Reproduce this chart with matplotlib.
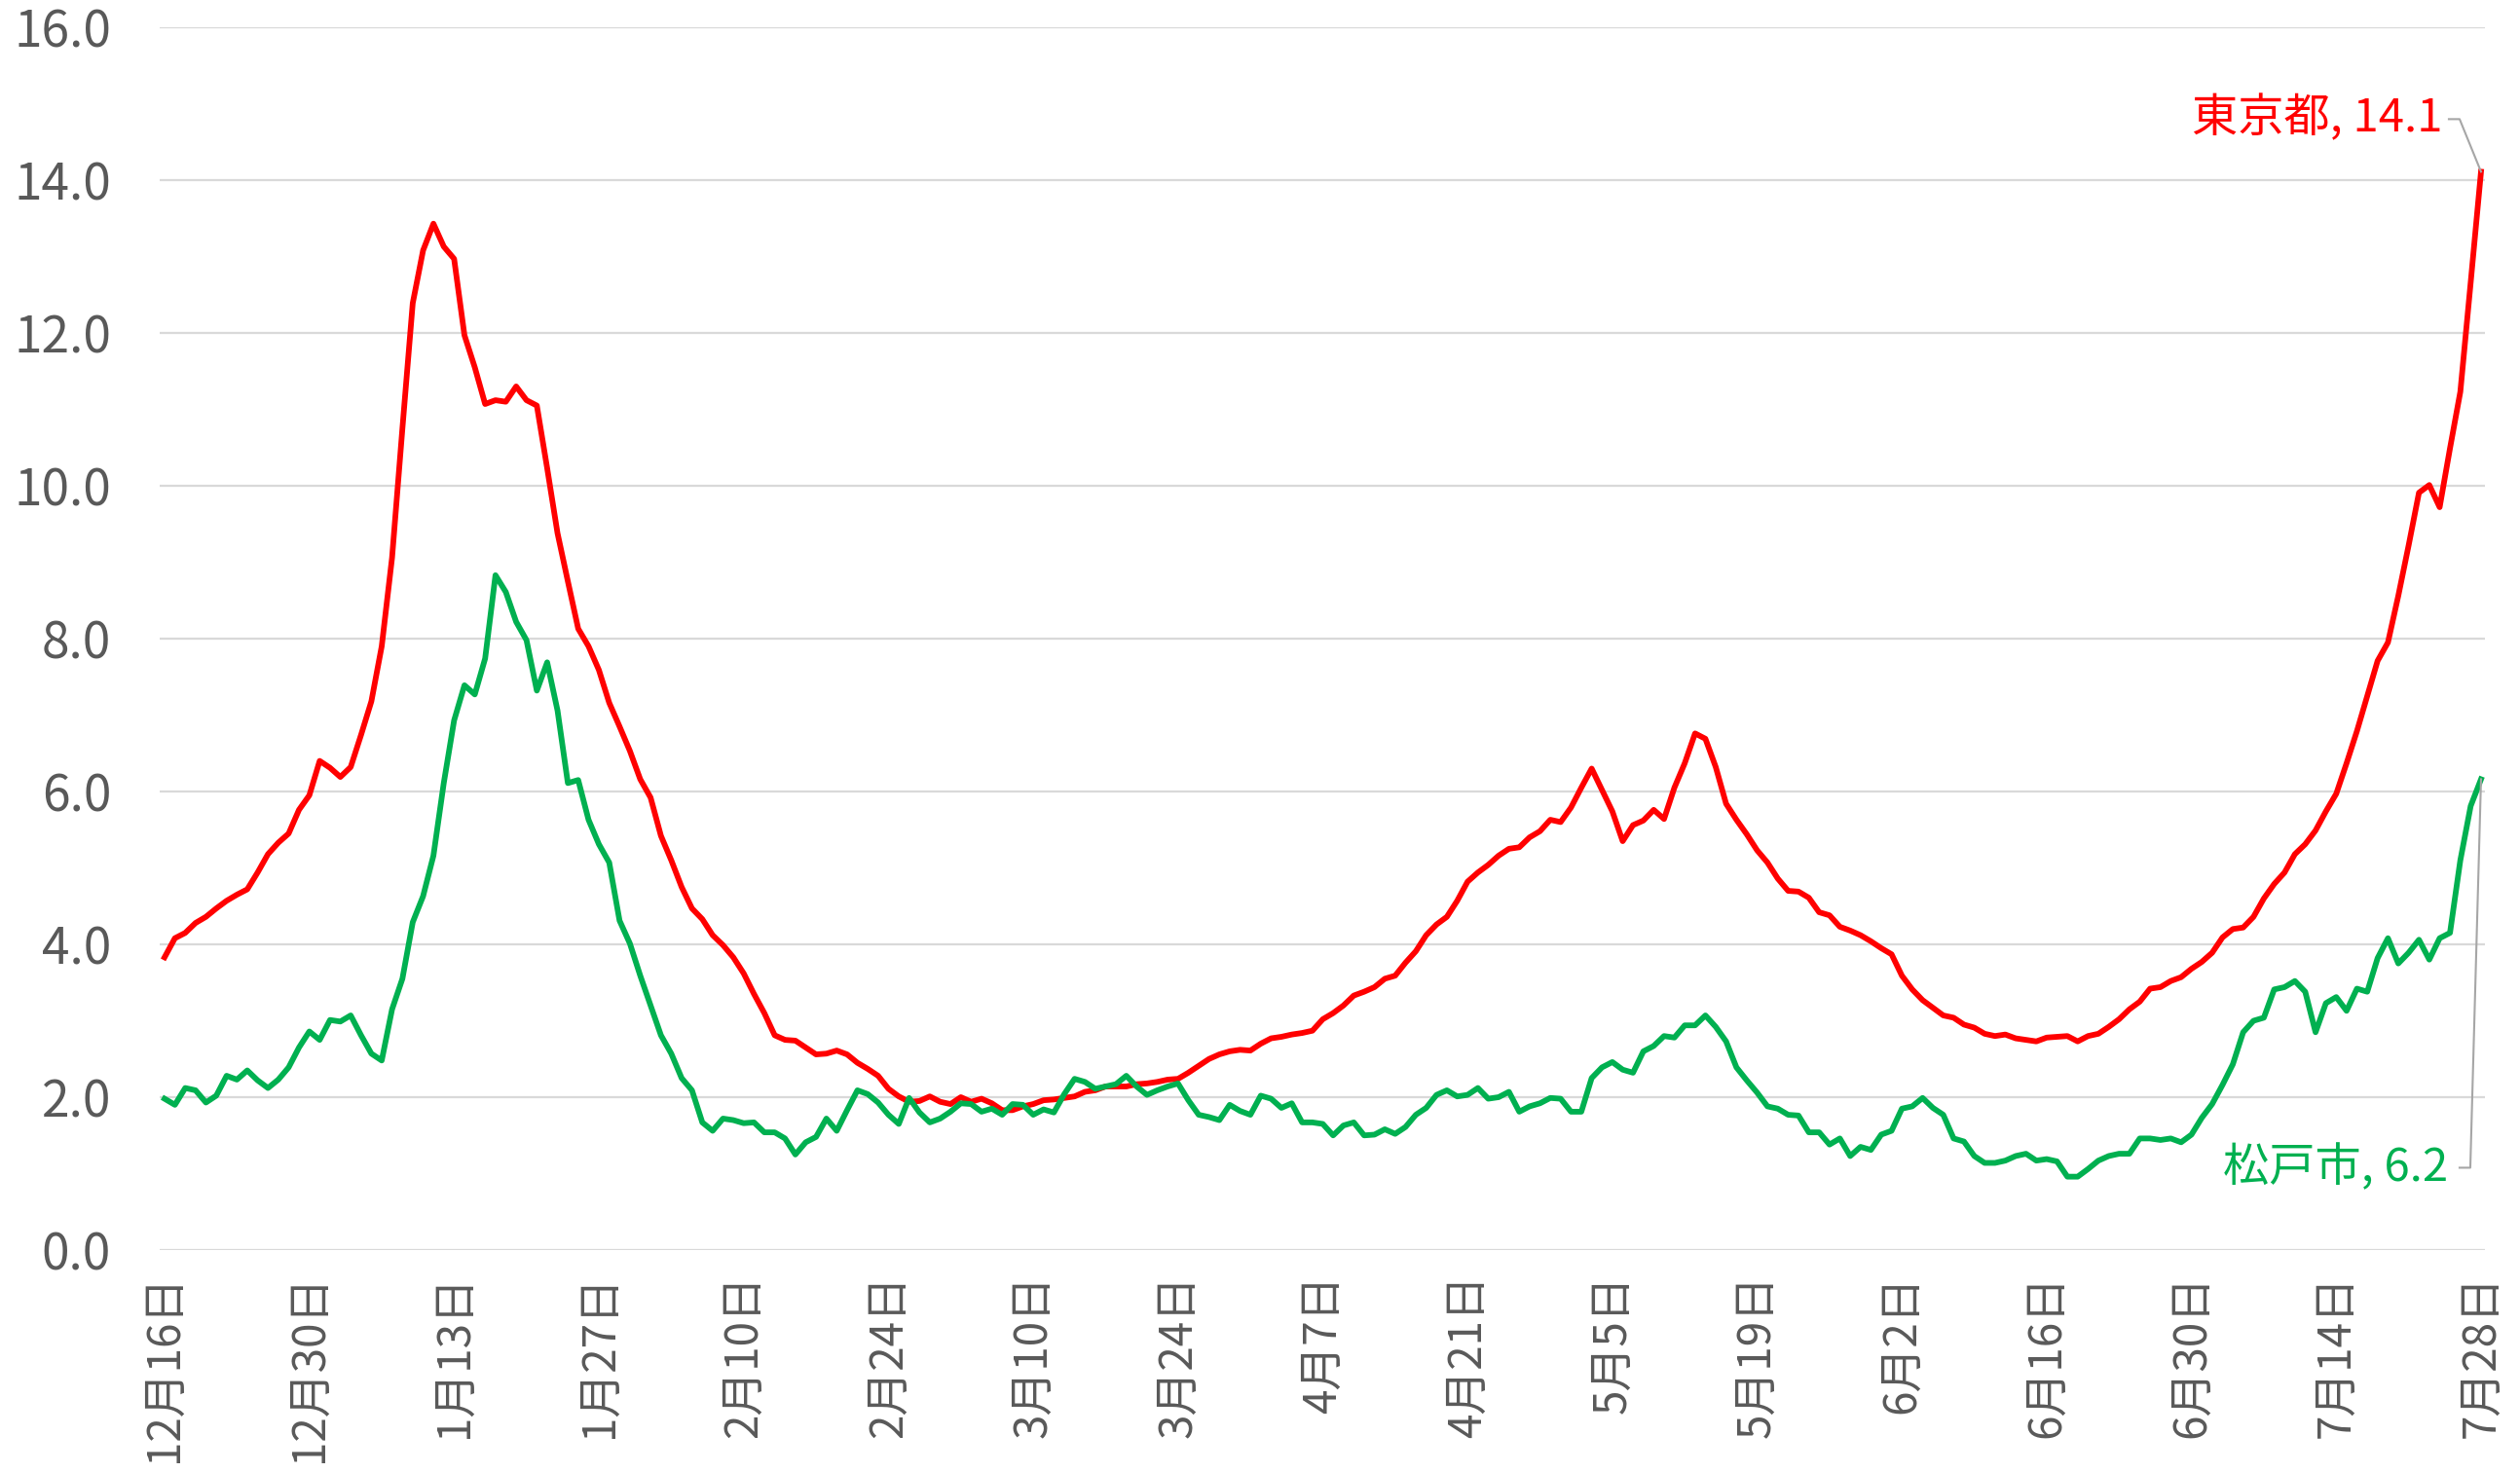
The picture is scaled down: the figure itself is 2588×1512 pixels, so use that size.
import numpy as np
import matplotlib
matplotlib.use('Agg')
import matplotlib.pyplot as plt
from matplotlib.lines import Line2D
from matplotlib.transforms import IdentityTransform

plt.rcParams['font.family'] = ['Noto Sans CJK JP', 'DejaVu Sans']

# 12/16 -> 7/28, one value per day
tokyo = [
    3.83, 4.08, 4.15, 4.28, 4.36, 4.47, 4.57, 4.65, 4.72, 4.94, 5.18, 5.33, 5.45, 5.76, 5.95,
    6.40, 6.31, 6.19, 6.32, 6.74, 7.18, 7.90, 9.06, 10.75, 12.39, 13.08, 13.43, 13.13, 12.97,
    11.97, 11.55, 11.07, 11.12, 11.10, 11.30, 11.12, 11.05, 10.23, 9.38, 8.75, 8.13, 7.90, 7.59,
    7.16, 6.85, 6.53, 6.16, 5.92, 5.42, 5.10, 4.75, 4.47, 4.33, 4.12, 3.99, 3.83, 3.62, 3.35,
    3.10, 2.81, 2.75, 2.74, 2.65, 2.56, 2.57, 2.61, 2.56, 2.45, 2.37, 2.28, 2.11, 2.01, 1.94,
    1.95, 2.01, 1.94, 1.91, 2.00, 1.94, 1.98, 1.92, 1.83, 1.83, 1.88, 1.91, 1.96, 1.97,
    1.99, 2.01, 2.07, 2.09, 2.14, 2.14, 2.14, 2.17, 2.18, 2.20, 2.23, 2.24, 2.32, 2.41, 2.50,
    2.56, 2.60, 2.62, 2.61, 2.70, 2.77, 2.79, 2.82, 2.84, 2.87, 3.02, 3.10, 3.20, 3.33,
    3.38, 3.44, 3.55, 3.59, 3.76, 3.91, 4.12, 4.26, 4.36, 4.57, 4.82, 4.94, 5.04, 5.16, 5.25,
    5.27, 5.40, 5.48, 5.63, 5.60, 5.79, 6.05, 6.30, 6.02, 5.74, 5.35, 5.56, 5.62, 5.76, 5.64,
    6.05, 6.37, 6.76, 6.69, 6.32, 5.84, 5.63, 5.44, 5.23, 5.07, 4.86, 4.70, 4.69, 4.61, 4.42,
    4.38, 4.23, 4.18, 4.12, 4.04, 3.95, 3.87, 3.59, 3.41, 3.27, 3.17, 3.07, 3.04, 2.95,
    2.91, 2.83, 2.80, 2.82, 2.77, 2.75, 2.73, 2.78, 2.79, 2.80, 2.73, 2.80, 2.83, 2.92, 3.02,
    3.15, 3.25, 3.42, 3.44, 3.52, 3.57, 3.68, 3.77, 3.89, 4.09, 4.20, 4.22, 4.36, 4.60,
    4.79, 4.94, 5.18, 5.31, 5.49, 5.74, 5.97, 6.37, 6.79, 7.25, 7.71, 7.95, 8.56, 9.22, 9.91,
    10.01, 9.72, 10.49, 11.23, 12.66, 14.11,
]
matsudo = [
    1.98, 1.90, 2.12, 2.09, 1.93, 2.02, 2.28, 2.23, 2.35, 2.22, 2.12, 2.23, 2.39, 2.65, 2.86,
    2.75, 3.01, 2.99, 3.07, 2.81, 2.57, 2.48, 3.15, 3.55, 4.29, 4.63, 5.16, 6.11, 6.93,
    7.39, 7.27, 7.74, 8.83, 8.61, 8.22, 7.98, 7.32, 7.69, 7.06, 6.11, 6.15, 5.63, 5.31, 5.07,
    4.31, 4.01, 3.59, 3.20, 2.81, 2.57, 2.25, 2.09, 1.67, 1.56, 1.72, 1.70, 1.66, 1.67,
    1.54, 1.54, 1.46, 1.25, 1.41, 1.48, 1.72, 1.56, 1.83, 2.09, 2.04, 1.93, 1.77, 1.65, 1.99,
    1.80, 1.67, 1.72, 1.81, 1.92, 1.91, 1.81, 1.85, 1.77, 1.91, 1.90, 1.77, 1.84, 1.80,
    2.04, 2.24, 2.20, 2.11, 2.14, 2.17, 2.28, 2.14, 2.03, 2.09, 2.14, 2.18, 1.96, 1.77, 1.74,
    1.70, 1.90, 1.82, 1.77, 2.02, 1.98, 1.86, 1.92, 1.67, 1.67, 1.65, 1.50, 1.63, 1.67,
    1.50, 1.51, 1.58, 1.52, 1.61, 1.77, 1.86, 2.03, 2.09, 2.01, 2.03, 2.12, 1.98, 2.00, 2.07,
    1.81, 1.88, 1.92, 1.99, 1.98, 1.81, 1.81, 2.25, 2.39, 2.46, 2.36, 2.32, 2.60, 2.67, 2.80,
    2.78, 2.94, 2.94, 3.07, 2.92, 2.73, 2.39, 2.22, 2.06, 1.88, 1.85, 1.77, 1.76, 1.54, 1.54,
    1.38, 1.46, 1.23, 1.35, 1.31, 1.51, 1.56, 1.85, 1.88, 1.99, 1.86, 1.77, 1.46, 1.42,
    1.23, 1.14, 1.14, 1.17, 1.23, 1.26, 1.17, 1.19, 1.16, 0.96, 0.96, 1.06, 1.17, 1.23, 1.26,
    1.26, 1.46, 1.46, 1.44, 1.46, 1.41, 1.51, 1.73, 1.91, 2.16, 2.43, 2.85, 3.00, 3.04,
    3.41, 3.44, 3.52, 3.38, 2.85, 3.23, 3.31, 3.13, 3.42, 3.38, 3.82, 4.08, 3.75, 3.89, 4.06,
    3.80, 4.08, 4.15, 5.10, 5.81, 6.16,
]
tick_labels = ['12月16日', '12月30日', '1月13日', '1月27日', '2月10日', '2月24日',
               '3月10日', '3月24日', '4月7日', '4月21日', '5月5日', '5月19日',
               '6月2日', '6月16日', '6月30日', '7月14日', '7月28日']
names = ['東京都', '松戸市']

RED = '#FF0000'
GREEN = '#00B050'
GREY = '#595959'

W, H = 2588, 1512
fig = plt.figure(figsize=(W / 100, H / 100), dpi=100)
ax = fig.add_axes([164 / W, (H - 1284) / H, (2552 - 164) / W, (1284 - 28) / H])

x = np.arange(len(tokyo))
ax.plot(x, tokyo, color=RED, lw=4.2, solid_joinstyle='round', zorder=3)
ax.plot(x, matsudo, color=GREEN, lw=4.2, solid_joinstyle='round', zorder=3)

ax.set_xlim(-0.47, len(tokyo) - 1 + 0.38)
ax.set_ylim(0, 16)
ax.set_yticks(np.arange(0, 16.1, 2))
ax.set_yticklabels(['{:.1f}'.format(v) for v in np.arange(0, 16.1, 2)])
ax.set_xticks(np.arange(0, len(tokyo), 14))
ax.set_xticklabels(tick_labels, rotation=90)
ax.grid(axis='y', color='#d9d9d9', lw=1.6)
ax.set_axisbelow(True)
for s in ax.spines.values():
    s.set_visible(False)
ax.tick_params(axis='both', length=0, colors=GREY)
ax.tick_params(axis='y', pad=36, labelsize=37)
ax.tick_params(axis='x', pad=18, labelsize=33)

# end labels with grey leader lines, placed in pixel space
fig.canvas.draw()
lead = '#a6a6a6'
px, py = ax.transData.transform((x[-1], tokyo[-1]))
fig.text((px - 39) / W, (py + 54) / H, '{}, {:.1f}'.format(names[0], tokyo[-1]),
         color=RED, fontsize=34, ha='right', va='center')
fig.add_artist(Line2D([px - 33, px - 22, px], [py + 54, py + 54, py], color=lead, lw=1.5,
                      transform=IdentityTransform()))
gx, gy = ax.transData.transform((x[-1], matsudo[-1]))
fig.text((gx - 34) / W, (gy - 399) / H, '{}, {:.1f}'.format(names[1], matsudo[-1]),
         color=GREEN, fontsize=34, ha='right', va='center')
fig.add_artist(Line2D([gx - 22, gx - 11, gx], [gy - 399, gy - 399, gy], color=lead, lw=1.5,
                      transform=IdentityTransform()))

fig.savefig('out.png', dpi=100, facecolor='white')
